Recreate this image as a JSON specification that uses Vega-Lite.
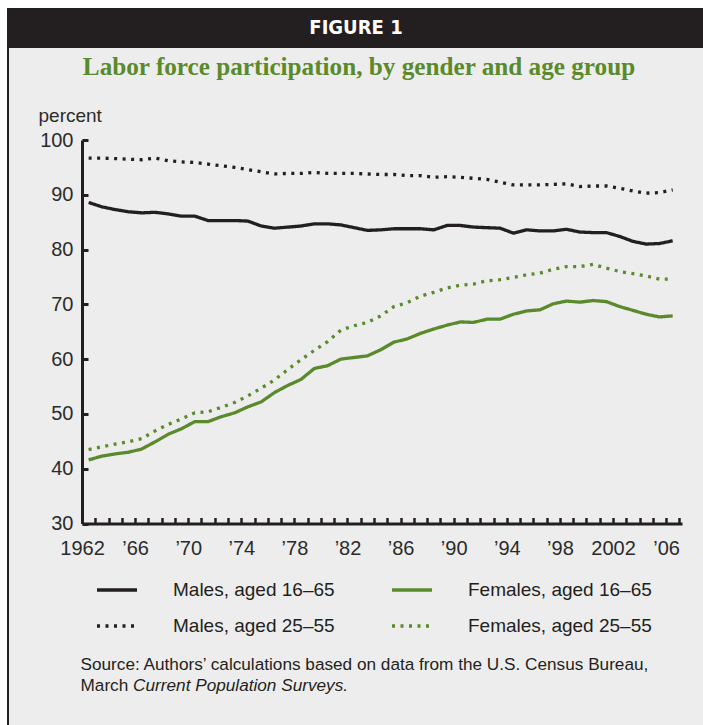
{
  "$schema": "https://vega.github.io/schema/vega-lite/v6.json",
  "background": "#ededed",
  "padding": 0,
  "spacing": 0,
  "config": {"view": {"stroke": null}, "font": "Liberation Sans"},
  "vconcat": [
    {
      "width": 703, "height": 8,
      "view": {"fill": "#ffffff", "stroke": null},
      "data": {"values": [{"t": ""}]},
      "mark": {"type": "text", "fontSize": 1},
      "encoding": {"text": {"field": "t"}}
    },
    {
      "spacing": 0,
      "hconcat": [
        {
          "width": 7, "height": 717,
          "view": {"fill": "#ffffff", "stroke": null},
          "data": {"values": [{"t": ""}]},
          "mark": {"type": "text", "fontSize": 1},
          "encoding": {"text": {"field": "t"}}
        },
        {
          "width": 2, "height": 717,
          "view": {"fill": "#231f20", "stroke": null},
          "data": {"values": [{"t": ""}]},
          "mark": {"type": "text", "fontSize": 1},
          "encoding": {"text": {"field": "t"}}
        },
        {
          "spacing": 0,
          "vconcat": [
            {
              "width": 694, "height": 40,
              "view": {"fill": "#231f20", "stroke": null},
              "data": {"values": [{"label": "FIGURE 1"}]},
              "mark": {"type": "text", "font": "Liberation Sans Narrow, DejaVu Sans Condensed, sans-serif", "fontWeight": "bold", "fontSize": 20, "color": "#ffffff", "baseline": "middle", "align": "center"},
              "encoding": {"text": {"field": "label"}}
            },
            {
              "width": 694, "height": 6,
              "data": {"values": [{"t": ""}]},
              "mark": {"type": "text", "fontSize": 1},
              "encoding": {"text": {"field": "t"}}
            },
            {
              "spacing": 0,
              "hconcat": [
                {
                  "width": 29, "height": 1,
                  "data": {"values": [{"t": ""}]},
                  "mark": {"type": "text", "fontSize": 1},
                  "encoding": {"text": {"field": "t"}}
                },
                {
                  "width": 600, "height": 383.5,
                  "title": {"text": "Labor force participation, by gender and age group", "font": "Liberation Serif", "fontSize": 25.2, "fontWeight": "bold", "color": "#5a8a2b", "anchor": "middle", "frame": "group", "dx": -23, "offset": 26},
                  "data": {"values": [
                    {"year": 1962, "M1": 88.6, "M2": 96.7, "F1": 41.6, "F2": 43.5},
                    {"year": 1963, "M1": 87.8, "M2": 96.7, "F1": 42.3, "F2": 44.0},
                    {"year": 1964, "M1": 87.3, "M2": 96.6, "F1": 42.7, "F2": 44.5},
                    {"year": 1965, "M1": 86.9, "M2": 96.5, "F1": 43.0, "F2": 44.9},
                    {"year": 1966, "M1": 86.7, "M2": 96.4, "F1": 43.6, "F2": 45.5},
                    {"year": 1967, "M1": 86.8, "M2": 96.7, "F1": 44.9, "F2": 46.9},
                    {"year": 1968, "M1": 86.5, "M2": 96.2, "F1": 46.3, "F2": 48.1},
                    {"year": 1969, "M1": 86.1, "M2": 96.0, "F1": 47.3, "F2": 49.1},
                    {"year": 1970, "M1": 86.1, "M2": 95.9, "F1": 48.6, "F2": 50.2},
                    {"year": 1971, "M1": 85.3, "M2": 95.6, "F1": 48.6, "F2": 50.4},
                    {"year": 1972, "M1": 85.3, "M2": 95.3, "F1": 49.5, "F2": 51.2},
                    {"year": 1973, "M1": 85.3, "M2": 95.0, "F1": 50.2, "F2": 52.1},
                    {"year": 1974, "M1": 85.2, "M2": 94.6, "F1": 51.3, "F2": 53.3},
                    {"year": 1975, "M1": 84.3, "M2": 94.2, "F1": 52.2, "F2": 54.7},
                    {"year": 1976, "M1": 83.9, "M2": 93.8, "F1": 53.9, "F2": 56.2},
                    {"year": 1977, "M1": 84.1, "M2": 93.9, "F1": 55.2, "F2": 58.1},
                    {"year": 1978, "M1": 84.3, "M2": 93.9, "F1": 56.3, "F2": 59.9},
                    {"year": 1979, "M1": 84.7, "M2": 94.1, "F1": 58.3, "F2": 61.6},
                    {"year": 1980, "M1": 84.7, "M2": 93.9, "F1": 58.8, "F2": 63.2},
                    {"year": 1981, "M1": 84.5, "M2": 93.9, "F1": 60.0, "F2": 65.3},
                    {"year": 1982, "M1": 84.0, "M2": 93.9, "F1": 60.3, "F2": 66.1},
                    {"year": 1983, "M1": 83.5, "M2": 93.8, "F1": 60.6, "F2": 66.7},
                    {"year": 1984, "M1": 83.6, "M2": 93.7, "F1": 61.7, "F2": 67.9},
                    {"year": 1985, "M1": 83.8, "M2": 93.7, "F1": 63.1, "F2": 69.6},
                    {"year": 1986, "M1": 83.8, "M2": 93.5, "F1": 63.7, "F2": 70.3},
                    {"year": 1987, "M1": 83.8, "M2": 93.5, "F1": 64.7, "F2": 71.5},
                    {"year": 1988, "M1": 83.6, "M2": 93.2, "F1": 65.5, "F2": 72.2},
                    {"year": 1989, "M1": 84.4, "M2": 93.3, "F1": 66.2, "F2": 73.0},
                    {"year": 1990, "M1": 84.4, "M2": 93.2, "F1": 66.8, "F2": 73.5},
                    {"year": 1991, "M1": 84.1, "M2": 93.0, "F1": 66.7, "F2": 73.7},
                    {"year": 1992, "M1": 84.0, "M2": 92.8, "F1": 67.3, "F2": 74.3},
                    {"year": 1993, "M1": 83.9, "M2": 92.3, "F1": 67.3, "F2": 74.5},
                    {"year": 1994, "M1": 83.0, "M2": 91.8, "F1": 68.2, "F2": 74.9},
                    {"year": 1995, "M1": 83.6, "M2": 91.8, "F1": 68.8, "F2": 75.4},
                    {"year": 1996, "M1": 83.4, "M2": 91.8, "F1": 69.0, "F2": 75.7},
                    {"year": 1997, "M1": 83.4, "M2": 91.9, "F1": 70.1, "F2": 76.4},
                    {"year": 1998, "M1": 83.7, "M2": 92.0, "F1": 70.6, "F2": 76.9},
                    {"year": 1999, "M1": 83.2, "M2": 91.5, "F1": 70.4, "F2": 76.9},
                    {"year": 2000, "M1": 83.1, "M2": 91.6, "F1": 70.7, "F2": 77.3},
                    {"year": 2001, "M1": 83.1, "M2": 91.6, "F1": 70.5, "F2": 76.6},
                    {"year": 2002, "M1": 82.4, "M2": 91.2, "F1": 69.6, "F2": 76.0},
                    {"year": 2003, "M1": 81.5, "M2": 90.7, "F1": 68.9, "F2": 75.6},
                    {"year": 2004, "M1": 81.0, "M2": 90.3, "F1": 68.2, "F2": 75.2},
                    {"year": 2005, "M1": 81.1, "M2": 90.4, "F1": 67.7, "F2": 74.6},
                    {"year": 2006, "M1": 81.6, "M2": 90.9, "F1": 67.9, "F2": 74.6}
                  ]},
                  "transform": [{"fold": ["M1", "F1", "M2", "F2"], "as": ["series", "value"]}],
                  "encoding": {
                    "y": {
                      "field": "value", "type": "quantitative",
                      "scale": {"domain": [30, 100], "nice": false, "zero": false},
                      "axis": {
                        "values": [30, 40, 50, 60, 70, 80, 90, 100],
                        "grid": false,
                        "domainColor": "#231f20", "domainWidth": 3,
                        "tickColor": "#231f20", "tickWidth": 3, "tickSize": -6,
                        "labelPadding": 15, "labelFontSize": 20, "labelColor": "#2b2b2b", "labelFont": "Liberation Sans",
                        "title": "percent",
                        "titleAngle": 0, "titleAlign": "left", "titleBaseline": "alphabetic",
                        "titleX": -44, "titleY": -19,
                        "titleFontSize": 19, "titleFontWeight": "normal", "titleColor": "#2b2b2b", "titleFont": "Liberation Sans"
                      }
                    },
                    "color": {
                      "field": "series", "type": "nominal",
                      "scale": {"domain": ["M1", "F1", "M2", "F2"], "range": ["#231f20", "#5a8a2b", "#231f20", "#5a8a2b"]},
                      "legend": {
                        "orient": "none", "legendX": 95, "legendY": 580, "columns": 2, "direction": "horizontal",
                        "title": null, "symbolType": "stroke", "symbolSize": 1600, "symbolStrokeWidth": 3.5,
                        "labelFontSize": 19, "labelColor": "#231f20", "labelFont": "Liberation Sans", "labelOffset": 34, "labelLimit": 400,
                        "columnPadding": 55, "rowPadding": 16, "clipHeight": 20,
                        "labelExpr": "datum.label == 'M1' ? 'Males, aged 16–65' : datum.label == 'F1' ? 'Females, aged 16–65' : datum.label == 'M2' ? 'Males, aged 25–55' : 'Females, aged 25–55'"
                      }
                    },
                    "strokeDash": {
                      "field": "series", "type": "nominal",
                      "scale": {"domain": ["M1", "F1", "M2", "F2"], "range": [[1, 0], [1, 0], [3, 5.5], [3, 5.5]]},
                      "legend": {
                        "orient": "none", "legendX": 95, "legendY": 580, "columns": 2, "direction": "horizontal",
                        "title": null, "symbolType": "stroke", "symbolSize": 1600, "symbolStrokeWidth": 3.5,
                        "labelFontSize": 19, "labelColor": "#231f20", "labelFont": "Liberation Sans", "labelOffset": 34, "labelLimit": 400,
                        "columnPadding": 55, "rowPadding": 16, "clipHeight": 20,
                        "labelExpr": "datum.label == 'M1' ? 'Males, aged 16–65' : datum.label == 'F1' ? 'Females, aged 16–65' : datum.label == 'M2' ? 'Males, aged 25–55' : 'Females, aged 25–55'"
                      }
                    }
                  },
                  "layer": [
                    {
                      "transform": [{"filter": "datum.series == 'M1' || datum.series == 'M2'"}],
                      "mark": {"type": "line", "strokeWidth": 3.3, "strokeCap": "butt"},
                      "encoding": {
                        "x": {
                          "field": "year", "type": "quantitative",
                          "scale": {"domain": [1961.5, 2006.7], "nice": false, "zero": false},
                          "axis": {
                            "orient": "bottom",
                            "values": [1962, 1966, 1970, 1974, 1978, 1982, 1986, 1990, 1994, 1998, 2002, 2006],
                            "format": "d",
                            "labelExpr": "datum.value == 1962 || datum.value == 2002 ? datum.label : '’' + slice(datum.label, 2)",
                            "ticks": false, "grid": false,
                            "domainColor": "#231f20", "domainWidth": 3,
                            "labelOffset": -6.6, "labelPadding": 15, "labelFontSize": 20, "labelColor": "#2b2b2b", "labelFont": "Liberation Sans",
                            "labelOverlap": false, "labelFlush": false,
                            "title": ["Source: Authors’ calculations based on data from the U.S. Census Bureau,", "March"],
                            "titleAlign": "left", "titleAnchor": "start", "titleBaseline": "alphabetic",
                            "titleX": -2, "titleY": 146, "titleLineHeight": 21,
                            "titleFontSize": 17.2, "titleFontWeight": "normal", "titleColor": "#231f20", "titleFont": "Liberation Sans"
                          }
                        }
                      }
                    },
                    {
                      "transform": [{"filter": "datum.series == 'F1' || datum.series == 'F2'"}],
                      "mark": {"type": "line", "strokeWidth": 3.3, "strokeCap": "butt"},
                      "encoding": {
                        "x": {
                          "field": "year", "type": "quantitative",
                          "scale": {"domain": [1961.5, 2006.7], "nice": false, "zero": false},
                          "axis": {
                            "orient": "bottom",
                            "values": [1962.5, 1963.5, 1964.5, 1965.5, 1966.5, 1967.5, 1968.5, 1969.5, 1970.5, 1971.5, 1972.5, 1973.5, 1974.5, 1975.5, 1976.5, 1977.5, 1978.5, 1979.5, 1980.5, 1981.5, 1982.5, 1983.5, 1984.5, 1985.5, 1986.5, 1987.5, 1988.5, 1989.5, 1990.5, 1991.5, 1992.5, 1993.5, 1994.5, 1995.5, 1996.5, 1997.5, 1998.5, 1999.5, 2000.5, 2001.5, 2002.5, 2003.5, 2004.5, 2005.5, 2006.5],
                            "labels": false, "domain": false, "grid": false,
                            "tickColor": "#231f20", "tickWidth": 2.5, "tickSize": -6,
                            "title": "Current Population Surveys.",
                            "titleAlign": "left", "titleAnchor": "start", "titleBaseline": "alphabetic",
                            "titleX": 50.6, "titleY": 167,
                            "titleFontSize": 17.2, "titleFontWeight": "normal", "titleFontStyle": "italic", "titleColor": "#231f20", "titleFont": "Liberation Sans"
                          }
                        }
                      }
                    }
                  ],
                  "resolve": {"axis": {"x": "independent"}}
                }
              ]
            }
          ]
        }
      ]
    }
  ]
}
